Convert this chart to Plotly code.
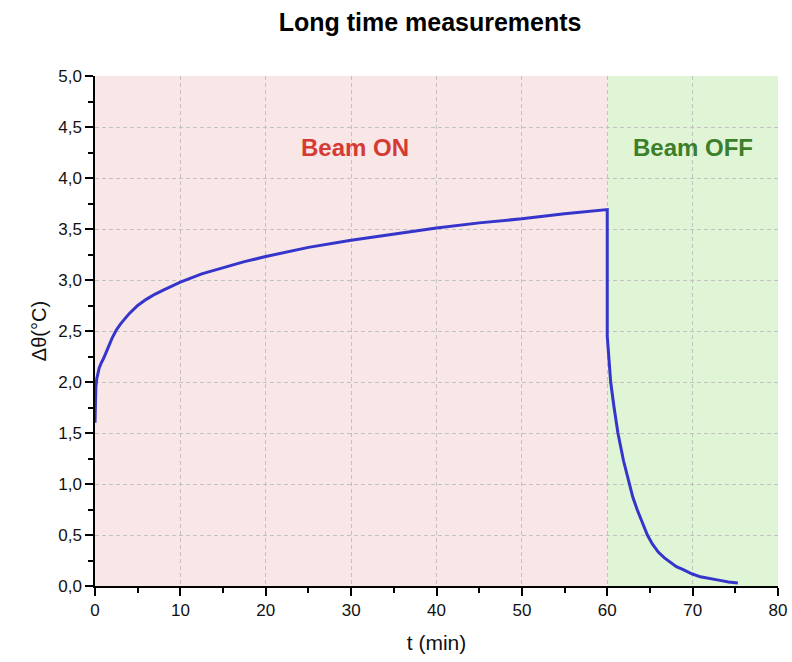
import plotly.graph_objects as go

# Beam ON phase
t_on = [0, 0.02, 0.05, 0.1, 0.2, 0.3, 0.5, 0.75, 1, 1.5, 2, 2.5, 3, 4, 5, 6, 7, 8, 10, 12.5, 15,
        17.5, 20, 25, 30, 35, 40, 45, 50, 55, 60]
y_on = [1.60, 1.75, 1.86, 1.95, 2.03, 2.08, 2.14, 2.19, 2.23, 2.33, 2.43, 2.51, 2.57, 2.67,
        2.75, 2.81, 2.86, 2.90, 2.98, 3.06, 3.12, 3.18, 3.23, 3.32, 3.39, 3.45, 3.51, 3.56,
        3.60, 3.65, 3.69]
# Beam OFF phase
t_off = [60, 60.1, 60.2, 60.4, 60.8, 61.25, 61.9, 62.55, 63.0, 63.5, 64.0, 64.7, 65.3, 66.0,
         66.7, 67.4, 68.1, 68.9, 69.9, 70.9, 72.0, 73.2, 74.2, 75.3]
y_off = [2.45, 2.32, 2.20, 2.00, 1.75, 1.50, 1.23, 1.00, 0.87, 0.75, 0.64, 0.50, 0.41, 0.33,
         0.275, 0.23, 0.19, 0.16, 0.12, 0.09, 0.07, 0.055, 0.04, 0.03]

phase_x = [0, 60, 80]
phase_labels = ["Beam ON", "Beam OFF"]
phase_fill = ["#f9e6e6", "#dff5d6"]
phase_text_color = ["#d63a34", "#3c7f2a"]
label_pos_x = [30.5, 70]
label_pos_y = [4.3, 4.3]

fig = go.Figure()
fig.add_trace(go.Scatter(x=t_on + t_off, y=y_on + y_off, mode="lines",
                         line=dict(color="#3535cc", width=3), showlegend=False))

for i in range(2):
    fig.add_shape(type="rect", xref="x", yref="y", x0=phase_x[i], x1=phase_x[i + 1],
                  y0=0, y1=5, fillcolor=phase_fill[i], line=dict(width=0), layer="below")
    fig.add_annotation(x=label_pos_x[i], y=label_pos_y[i], text="<b>%s</b>" % phase_labels[i],
                       showarrow=False, font=dict(size=24, color=phase_text_color[i]))

fig.update_layout(
    width=792, height=662,
    margin=dict(l=95, r=14, t=76, b=76),
    paper_bgcolor="white", plot_bgcolor="white",
    separators=",.",
    font=dict(family="Liberation Sans, Arial, sans-serif", size=17, color="#111111"),
    title=dict(text="<b>Long time measurements</b>", x=0.543, xanchor="center", y=0.967,
               yanchor="middle", font=dict(size=25, color="black")),
)
fig.update_xaxes(range=[0, 80], dtick=10, tick0=0, showline=True, linecolor="black", linewidth=1.5,
                 ticks="outside", ticklen=8, tickwidth=1.5, tickcolor="black", automargin=False,
                 minor=dict(dtick=5, ticks="outside", ticklen=5, tickcolor="black", showgrid=False),
                 showgrid=True, gridcolor="#c2c2c2", griddash="4px,3px", gridwidth=1,
                 zeroline=False, title=dict(text="t (min)", font=dict(size=21), standoff=16))
fig.update_yaxes(range=[0, 5], dtick=0.5, tick0=0, tickformat=".1f", showline=True,
                 linecolor="black", linewidth=1.5, automargin=False,
                 ticks="outside", ticklen=8, tickwidth=1.5, tickcolor="black",
                 minor=dict(dtick=0.25, ticks="outside", ticklen=5, tickcolor="black", showgrid=False),
                 showgrid=True, gridcolor="#c2c2c2", griddash="4px,3px", gridwidth=1,
                 zeroline=False, title=dict(text="Δθ(°C)", font=dict(size=20), standoff=6))

fig.write_html("out.html")
